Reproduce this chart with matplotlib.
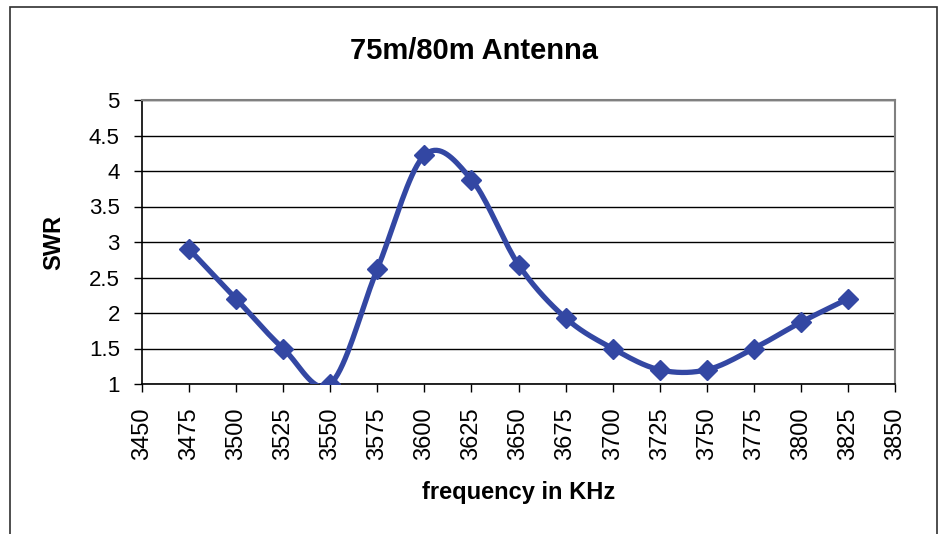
import numpy as np
import matplotlib
matplotlib.use("Agg")
import matplotlib.pyplot as plt
from matplotlib.patches import Rectangle

plt.rcParams['font.family'] = ['Liberation Sans', 'DejaVu Sans']

# data
freq = [3475, 3500, 3525, 3550, 3575, 3600, 3625, 3650, 3675, 3700, 3725, 3750, 3775, 3800, 3825]
swr = [2.9, 2.2, 1.5, 1.0, 2.62, 4.22, 3.88, 2.68, 1.93, 1.5, 1.2, 1.2, 1.5, 1.87, 2.2]
xticks = list(range(3450, 3851, 25))
yticks = [1, 1.5, 2, 2.5, 3, 3.5, 4, 4.5, 5]

LINE_COLOR = '#3347a3'


def smooth(x, y, n=20):
    # excel-like smoothed line (catmull-rom through the points)
    x = np.asarray(x, float)
    y = np.asarray(y, float)
    px = np.concatenate([[2 * x[0] - x[1]], x, [2 * x[-1] - x[-2]]])
    py = np.concatenate([[2 * y[0] - y[1]], y, [2 * y[-1] - y[-2]]])
    xs, ys = [], []
    t = np.linspace(0, 1, n)
    for i in range(1, len(px) - 2):
        for p, out in ((px, xs), (py, ys)):
            p0, p1, p2, p3 = p[i - 1], p[i], p[i + 1], p[i + 2]
            out.extend(0.5 * ((2 * p1) + (-p0 + p2) * t +
                              (2 * p0 - 5 * p1 + 4 * p2 - p3) * t ** 2 +
                              (-p0 + 3 * p1 - 3 * p2 + p3) * t ** 3))
    return xs, ys


fig = plt.figure(figsize=(9.43, 5.34), dpi=100)
fig.patches.append(Rectangle((10 / 943, -0.01), 927 / 943, 1 - 7 / 534 + 0.01,
                             transform=fig.transFigure, fill=False,
                             edgecolor='#303030', linewidth=1.2))
ax = fig.add_axes([142 / 943, 1 - 384 / 534, (895 - 142) / 943, (384 - 100) / 534])

sx, sy = smooth(freq, swr)
ax.plot(sx, sy, color=LINE_COLOR, linewidth=3.8, solid_capstyle='round', zorder=3)
ax.plot(freq, swr, linestyle='none', marker='D', markersize=10,
        color=LINE_COLOR, zorder=4)

ax.set_xlim(3450, 3850)
ax.set_ylim(1, 5)
ax.set_xticks(xticks)
ax.set_xticklabels([str(v) for v in xticks], rotation=90, fontsize=17)
ax.set_yticks(yticks)
ax.set_yticklabels(['1', '1.5', '2', '2.5', '3', '3.5', '4', '4.5', '5'], fontsize=16)
ax.tick_params(direction='out', length=6, width=1, color='black')
ax.tick_params(axis='x', pad=11)
ax.tick_params(axis='y', pad=10)
ax.yaxis.grid(True, color='black', linewidth=1)
ax.set_axisbelow(True)

for s in ('top', 'right'):
    ax.spines[s].set_color('#808080')
    ax.spines[s].set_linewidth(1.5)
for s in ('left', 'bottom'):
    ax.spines[s].set_color('black')
    ax.spines[s].set_linewidth(1.2)

ax.set_xlabel('frequency in KHz', fontsize=17, fontweight='bold')
ax.set_ylabel('SWR', fontsize=17, fontweight='bold')
ax.xaxis.set_label_coords(0.5, -0.34)
ax.yaxis.set_label_coords(-0.102, 0.5)
fig.text(474 / 943, 1 - 51 / 534, '75m/80m Antenna', fontsize=21,
         fontweight='bold', ha='center', va='center')

fig.savefig('out.png', dpi=100)
